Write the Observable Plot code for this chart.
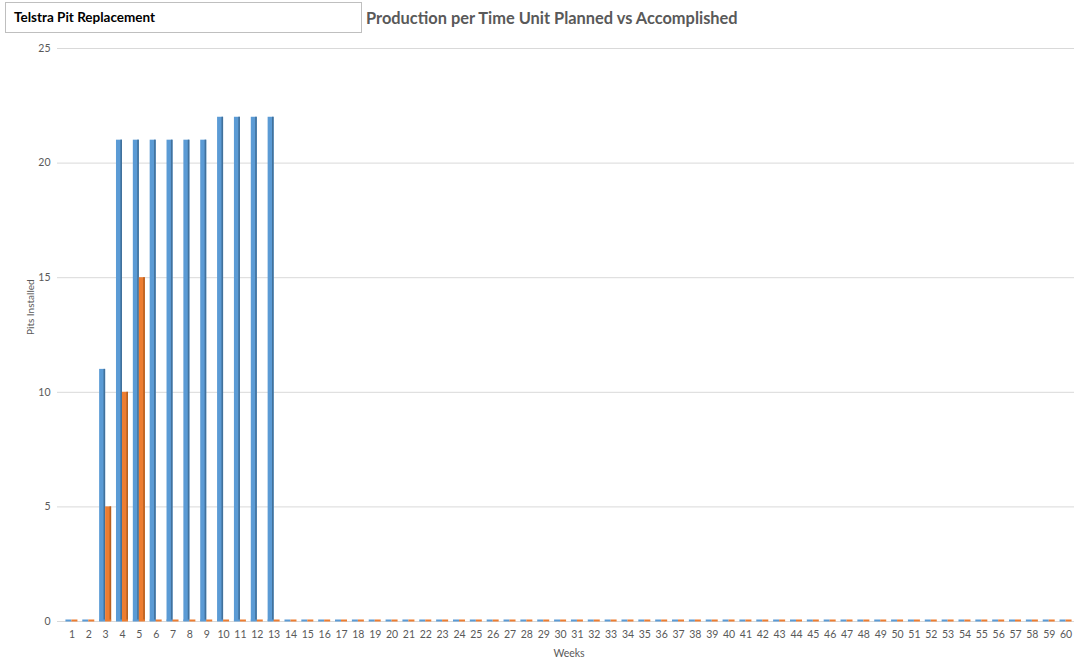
<!DOCTYPE html>
<html>
<head>
<meta charset="utf-8">
<script src="https://cdn.jsdelivr.net/npm/d3@7"></script>
<script src="https://cdn.jsdelivr.net/npm/@observablehq/plot@0.6"></script>
<style>
  html, body { margin: 0; padding: 0; background: #fff; }
  body { width: 1074px; height: 661px; position: relative; overflow: hidden; font-family: Lato, "Open Sans", sans-serif; }
  #header { position: relative; height: 40px; }
  #box { position: absolute; left: 5px; top: 2px; width: 355px; height: 29px; border: 1px solid #bfbfbf; box-sizing: content-box; }
  #box span { position: absolute; left: 8px; top: 6px; font-weight: bold; font-size: 13.5px; color: #000; }
  #title { position: absolute; left: 366px; top: 8px; font-weight: bold; font-size: 16.4px; color: #595959; white-space: nowrap; }
  #chart { position: absolute; left: 0; top: 40px; }
</style>
</head>
<body>
<div id="header">
  <div id="box"><span>Telstra Pit Replacement</span></div>
  <div id="title">Production per Time Unit Planned vs Accomplished</div>
</div>
<div id="chart"></div>
<script>
const weeks = d3.range(1, 61);
const planned = [0, 0, 11, 21, 21, 21, 21, 21, 21, 22, 22, 22, 22].concat(new Array(47).fill(0));
const accomplished = [0, 0, 5, 10, 15].concat(new Array(55).fill(0));
const yTicks = [0, 5, 10, 15, 20, 25];

const rows = weeks.map((w, i) => ({week: w, planned: planned[i], accomplished: accomplished[i]}));

const width = 1074, height = 621;
const marginLeft = 63, marginRight = 0;
const step = (width - marginLeft - marginRight) / weeks.length;
const half = step / 2;
const barW = 6;
const side = 1.6;

const blue = "#5B9BD5", blueDark = "#41719C";
const orange = "#ED7D31", orangeDark = "#B8601F";

const chart = Plot.plot({
  width, height,
  marginLeft, marginRight,
  marginTop: 8, marginBottom: 40,
  style: {fontFamily: "Lato, 'Open Sans', sans-serif", fontSize: "10.5px", color: "#595959", background: "#fff"},
  x: {type: "band", domain: weeks, padding: 0, label: null},
  y: {domain: [0, 25], label: null},
  marks: [
    Plot.ruleY(yTicks, {y: d => d, stroke: "#d9d9d9", strokeWidth: 1, insetLeft: -6}),
    Plot.axisY({ticks: yTicks, tickSize: 0, tickPadding: 13, label: null, fill: "#595959"}),
    Plot.axisX({tickSize: 0, tickPadding: 9, label: null, fill: "#595959"}),
    // planned bars
    Plot.barY(rows, {x: "week", y1: 0, y2: "planned", fill: blue, insetLeft: half - barW, insetRight: half}),
    Plot.barY(rows, {x: "week", y1: 0, y2: "planned", fill: blueDark, insetLeft: half - side, insetRight: half}),
    // accomplished bars
    Plot.barY(rows, {x: "week", y1: 0, y2: "accomplished", fill: orange, insetLeft: half, insetRight: half - barW}),
    Plot.barY(rows, {x: "week", y1: 0, y2: "accomplished", fill: orangeDark, insetLeft: half + barW - side, insetRight: half - barW}),
    // zero-height bar bases
    Plot.tickY(rows, {x: "week", y: 0, stroke: blue, strokeWidth: 2, insetLeft: half - barW, insetRight: half, dy: -1}),
    Plot.tickY(rows, {x: "week", y: 0, stroke: orange, strokeWidth: 2, insetLeft: half, insetRight: half - barW, dy: -1}),
    Plot.text(["Pits Installed"], {frameAnchor: "left", rotate: -90, dx: -33, fill: "#595959", fontSize: 10}),
    Plot.text(["Weeks"], {frameAnchor: "bottom", dy: 35, fill: "#595959", fontSize: 10.5})
  ]
});
document.getElementById("chart").appendChild(chart);
</script>
</body>
</html>
